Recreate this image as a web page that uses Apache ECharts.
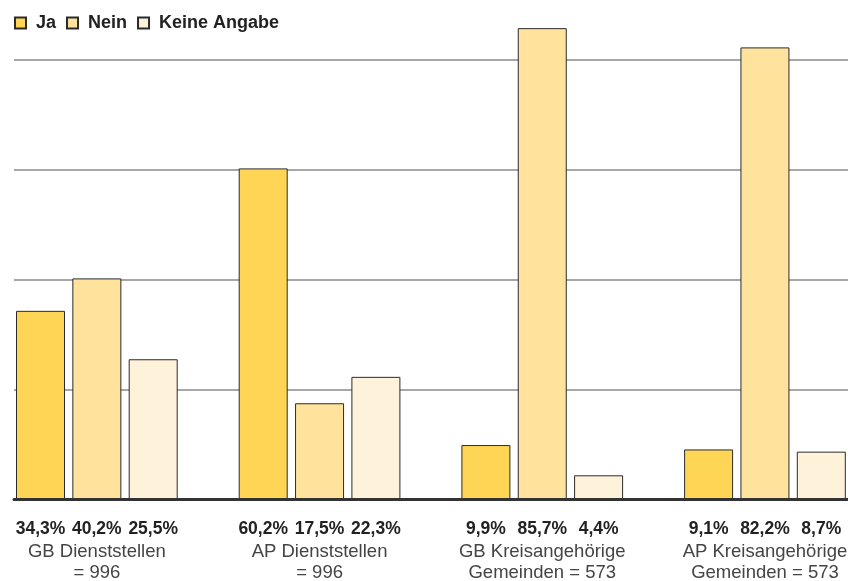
<!DOCTYPE html>
<html><head><meta charset="utf-8">
<script src="https://cdn.jsdelivr.net/npm/echarts@6/dist/echarts.min.js"></script>
<style>html,body{margin:0;padding:0;background:#fff}#c{width:848px;height:581px}</style>
</head><body><div id="c"></div>
<script>
var categories = ['GB Dienststellen\n= 996', 'AP Dienststellen\n= 996', 'GB Kreisangehörige\nGemeinden = 573', 'AP Kreisangehörige\nGemeinden = 573'];
var seriesNames = ['Ja', 'Nein', 'Keine Angabe'];
var ja = [34.3, 60.2, 9.9, 9.1];
var nein = [40.2, 17.5, 85.7, 82.2];
var keine = [25.5, 22.3, 4.4, 8.7];
var colors = ['#FFD556', '#FFE39C', '#FFF2DA'];
var FONT = '"Liberation Sans", Arial, sans-serif';

function mk(name, data, color) {
  return {
    name: name, type: 'bar', data: data, xAxisIndex: 1, yAxisIndex: 1,
    barWidth: 49, barGap: '15%',
    itemStyle: { color: color, borderColor: '#2b2b2b', borderWidth: 1 },
    label: {
      show: true, position: 'bottom', distance: 21,
      fontFamily: FONT, fontWeight: 'bold', fontSize: 17.5, color: '#222',
      formatter: function (p) { return String(p.value).replace('.', ',') + '%'; }
    }
  };
}

var chart = echarts.init(document.getElementById('c'), null, { renderer: 'canvas' });
chart.setOption({
  animation: false,
  backgroundColor: '#fff',
  legend: {
    left: 14, top: 14, padding: 0, icon: 'rect', itemWidth: 11, itemHeight: 11, itemGap: 10,
    textStyle: { fontFamily: FONT, fontWeight: 'bold', fontSize: 18, color: '#222', padding: [0, 0, 0, 5] },
    data: seriesNames
  },
  grid: [
    { left: 14, right: 0, top: -50.5, bottom: 81.5, outerBoundsMode: 'none', containLabel: false },
    { left: -14.5, right: -28.3, top: -50.5, bottom: 81.5, outerBoundsMode: 'none', containLabel: false }
  ],
  xAxis: [
    { gridIndex: 0, type: 'category', data: ['a'], axisTick: { show: false }, axisLabel: { show: false },
      axisLine: { show: true, lineStyle: { color: '#333', width: 3 } }, z: 5 },
    { gridIndex: 1, type: 'category', data: categories, axisTick: { show: false }, axisLine: { show: false },
      axisLabel: { margin: 41.5, fontFamily: FONT, fontSize: 18.5, color: '#444', lineHeight: 21 } }
  ],
  yAxis: [
    { gridIndex: 0, type: 'value', min: 0, max: 100, interval: 20, axisLabel: { show: false },
      axisLine: { show: false }, axisTick: { show: false },
      splitLine: { show: true, lineStyle: { color: '#8a8a8a', width: 1.5 } } },
    { gridIndex: 1, type: 'value', min: 0, max: 100, interval: 20, show: false, splitLine: { show: false } }
  ],
  series: [mk(seriesNames[0], ja, colors[0]), mk(seriesNames[1], nein, colors[1]), mk(seriesNames[2], keine, colors[2])]
});
</script></body></html>
